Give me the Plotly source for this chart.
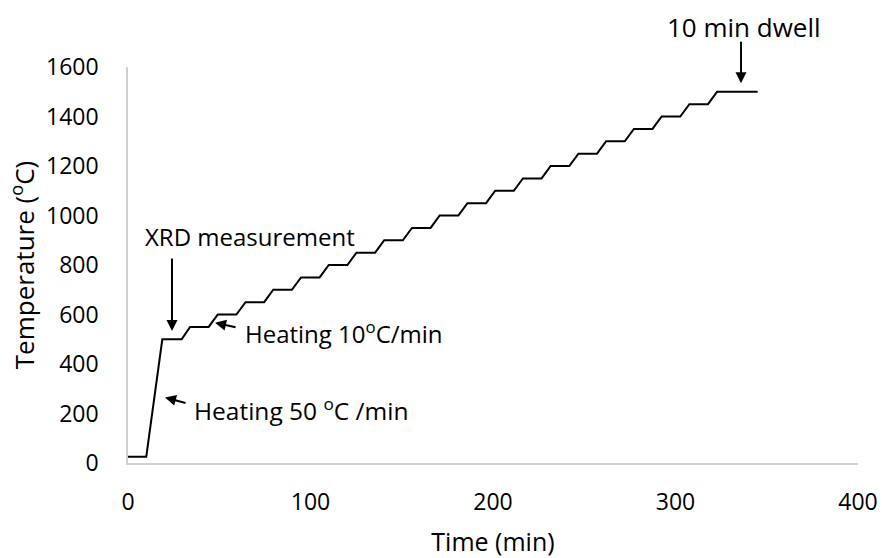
import plotly.graph_objects as go

# Furnace temperature programme
time_min = [0, 10, 18.8, 29.4, 34.0, 44.2, 49.2, 59.4, 64.4, 74.6, 79.6, 89.8,
            94.8, 105.0, 110.0, 120.2, 125.2, 135.4, 140.4, 150.6, 155.6, 165.8,
            170.8, 181.0, 186.0, 196.2, 201.2, 211.4, 216.4, 226.6, 231.6, 241.8,
            246.8, 257.0, 262.0, 272.2, 277.2, 287.4, 292.4, 302.6, 307.6, 317.8,
            322.8, 345.0]
temp_c = [25, 25, 500, 500, 550, 550, 600, 600, 650, 650, 700, 700,
          750, 750, 800, 800, 850, 850, 900, 900, 950, 950,
          1000, 1000, 1050, 1050, 1100, 1100, 1150, 1150, 1200, 1200,
          1250, 1250, 1300, 1300, 1350, 1350, 1400, 1400, 1450, 1450,
          1500, 1500]

x_ticks = [0, 100, 200, 300, 400]
y_ticks = [0, 200, 400, 600, 800, 1000, 1200, 1400, 1600]

x_title = "Time (min)"
y_title = "Temperature (<sup>o</sup>C)"

label_xrd = "XRD measurement"
label_h10 = "Heating 10<sup>o</sup>C/min"
label_h50 = "Heating 50 <sup>o</sup>C /min"
label_dwell = "10 min dwell"

FONT = "Open Sans"

fig = go.Figure()
fig.add_trace(go.Scatter(
    x=time_min, y=temp_c, mode="lines",
    line=dict(color="#000000", width=2),
    showlegend=False, hoverinfo="skip",
))

arrow_style = dict(showarrow=True, arrowhead=2, arrowsize=1.1, arrowwidth=2,
                   arrowcolor="#000000", standoff=0, text="")

annotations = [
    # arrows (tip in data coords, tail as pixel offset)
    dict(x=24.1, y=533, ax=0, ay=-74, **arrow_style),
    dict(x=47.7, y=567, ax=22, ay=5, **arrow_style),
    dict(x=20.3, y=265, ax=22, ay=6, **arrow_style),
    dict(x=335.9, y=1534, ax=0, ay=-43, **arrow_style),
    # labels
    dict(x=8.2, y=917, text=label_xrd, showarrow=False, xanchor="left", yanchor="middle",
         font=dict(family=FONT, size=24, color="#000000")),
    dict(x=63.0, y=527, text=label_h10, showarrow=False, xanchor="left", yanchor="middle",
         font=dict(family=FONT, size=24, color="#000000")),
    dict(x=35.0, y=216, text=label_h50, showarrow=False, xanchor="left", yanchor="middle",
         font=dict(family=FONT, size=24.5, color="#000000")),
    dict(x=337.5, y=1.101, yref="paper", text=label_dwell, showarrow=False,
         xanchor="center", yanchor="middle",
         font=dict(family=FONT, size=26, color="#000000")),
]

fig.update_layout(
    width=882, height=558,
    margin=dict(l=128, r=24, t=67, b=95, pad=0, autoexpand=False),
    paper_bgcolor="#ffffff", plot_bgcolor="#ffffff",
    font=dict(family=FONT, size=22, color="#000000"),
    annotations=annotations,
    xaxis=dict(
        range=[0, 400], tickvals=x_ticks, ticktext=[str(v) for v in x_ticks],
        showgrid=False, zeroline=False, showline=True, linecolor="#d0d0d0", linewidth=1.5,
        ticks="", ticklabelstandoff=18, automargin=False,
        tickfont=dict(family=FONT, size=23, color="#000000"),
        title=dict(text=x_title, font=dict(family=FONT, size=25, color="#000000"), standoff=17),
    ),
    yaxis=dict(
        range=[0, 1600], tickvals=y_ticks, ticktext=[str(v) for v in y_ticks],
        showgrid=False, zeroline=False, showline=True, linecolor="#d0d0d0", linewidth=1.5,
        ticks="", ticklabelstandoff=23, automargin=False,
        tickfont=dict(family=FONT, size=23, color="#000000"),
        title=dict(text=y_title, font=dict(family=FONT, size=26, color="#000000"), standoff=4),
    ),
)

fig.write_html("out.html",
               config={"displayModeBar": False},
               post_script="document.body.style.margin='0';document.body.style.overflow='hidden';")
